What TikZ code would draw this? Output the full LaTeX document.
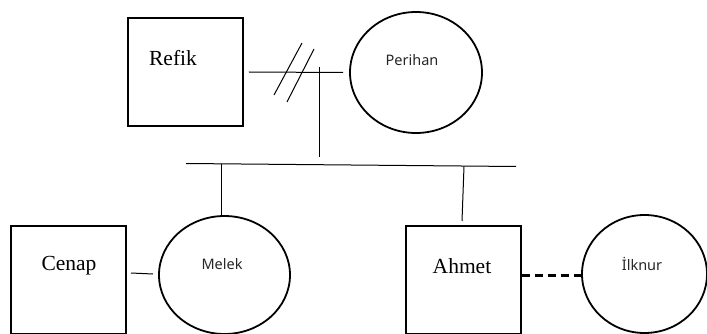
\documentclass[tikz,border=0pt]{standalone}
\usepackage{fontspec}
\setmainfont{Liberation Serif}
\newfontfamily\namesans{Noto Sans}
\usetikzlibrary{shapes.geometric}
\begin{document}
\begin{tikzpicture}[x=1pt,y=-1pt,
  malebox/.style={draw,line width=1.8pt,rectangle,minimum width=115pt,minimum height=108pt,inner sep=0pt},
  femaleoval/.style={draw,line width=1.8pt,ellipse,inner sep=0pt},
  serifname/.style={inner sep=0pt,font=\fontsize{21.5}{24}\selectfont},
  sansname/.style={inner sep=0pt,font=\namesans\fontsize{14.5}{17}\selectfont,text=black!85},
  link/.style={line width=1pt},
  partner/.style={line width=3pt,dash pattern=on 8pt off 5pt}]
\useasboundingbox (0,0) rectangle (707,334);
\clip (0,0) rectangle (707,334);

% parents
\node[malebox] (refik) at (185.5,72) {};
\node[serifname] (refikname) at (173,58) {Refik};
\node[femaleoval,minimum width=132pt,minimum height=121pt] (perihan) at (416,72.5) {};
\node[sansname] (perihanname) at (412,60) {Perihan};

% children and partners
\node[malebox] (cenap) at (68.5,280) {};
\node[serifname] (cenapname) at (69,266) {Cenap};
\node[femaleoval,minimum width=131pt,minimum height=118pt] (melek) at (224.5,275) {};
\node[sansname] (melekname) at (222,264) {Melek};
\node[malebox] (ahmet) at (463.5,280) {};
\node[serifname] (ahmetname) at (462,266) {Ahmet};
\node[femaleoval,minimum width=125pt,minimum height=118pt] (ilknur) at (644.5,274) {};
\node[sansname] (ilknurname) at (642,264) {İlknur};

% divorced couple: marriage line with two slashes
\coordinate (mleft) at ([xshift=5pt]refik.east);
\coordinate (mright) at ([xshift=-6pt]perihan.west);
\draw[link] (mleft) -- (mright);
\coordinate (s1a) at (274,95); \coordinate (s1b) at (302,43);
\coordinate (s2a) at (287,102); \coordinate (s2b) at (314,49);
\draw[link] (s1a) -- (s1b);
\draw[link] (s2a) -- (s2b);

% descent line and sibling bar
\coordinate (dtop) at (319,67);
\coordinate (dbot) at (319,157);
\draw[link] (dtop) -- (dbot);
\coordinate (barl) at (186,163.5);
\coordinate (barr) at (516,166.5);
\draw[link] (barl) -- (barr);
\coordinate (mdrop) at (221,164.5);
\draw[link] (mdrop) -- (melek.north -| mdrop);
\coordinate (adrop) at (464,166.5);
\coordinate (aend) at (462,221);
\draw[link] (adrop) -- (aend);

% partnerships of the children
\coordinate (cm1) at ([xshift=4pt,yshift=7pt]cenap.east);
\coordinate (cm2) at (153,274);
\draw[link] (cm1) -- (cm2);
\draw[partner] ([yshift=5pt]ahmet.east) -- (ilknur.west |- 0,275);
\end{tikzpicture}
\end{document}
